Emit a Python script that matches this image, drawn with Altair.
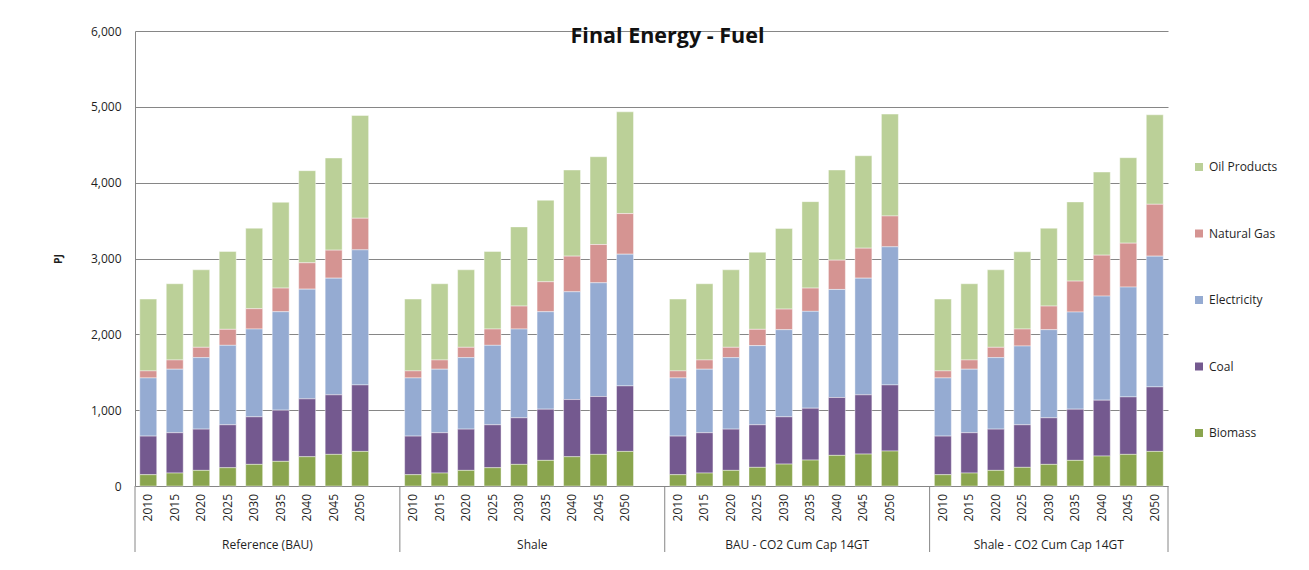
import altair as alt
import pandas as pd

years = [2010, 2015, 2020, 2025, 2030, 2035, 2040, 2045, 2050]
scenarios = ["Reference (BAU)", "Shale", "BAU - CO2 Cum Cap 14GT", "Shale - CO2 Cum Cap 14GT"]
fuels = ["Oil Products", "Natural Gas", "Electricity", "Coal", "Biomass"]
colors = ["#BBD098", "#D59492", "#95ABD2", "#74598F", "#8AA54E"]

# Reference (BAU)
ref_biomass = [149, 171, 206, 241, 285, 325, 386, 417, 456]
ref_coal = [509, 531, 544, 566, 627, 675, 763, 785, 877]
ref_elec = [767, 838, 943, 1048, 1158, 1298, 1447, 1539, 1781]
ref_gas = [93, 122, 136, 211, 268, 312, 347, 369, 417]
ref_oil = [947, 1005, 1022, 1026, 1061, 1131, 1215, 1215, 1355]

# Shale
shale_biomass = [149, 171, 206, 241, 285, 338, 386, 417, 456]
shale_coal = [509, 531, 544, 566, 614, 675, 754, 763, 864]
shale_elec = [767, 838, 943, 1048, 1171, 1285, 1421, 1500, 1737]
shale_gas = [93, 122, 136, 215, 303, 395, 470, 504, 535]
shale_oil = [947, 1005, 1022, 1022, 1044, 1075, 1136, 1158, 1342]

# BAU - CO2 Cum Cap 14GT
bauco2_biomass = [149, 171, 206, 246, 289, 342, 404, 421, 461]
bauco2_coal = [509, 531, 544, 561, 623, 684, 763, 781, 872]
bauco2_elec = [767, 838, 943, 1044, 1149, 1277, 1425, 1539, 1821]
bauco2_gas = [93, 122, 136, 215, 272, 307, 386, 395, 407]
bauco2_oil = [947, 1005, 1022, 1017, 1062, 1140, 1189, 1219, 1343]

# Shale - CO2 Cum Cap 14GT
shaleco2_biomass = [149, 171, 206, 246, 285, 338, 395, 417, 456]
shaleco2_coal = [509, 531, 544, 561, 614, 675, 737, 758, 851]
shaleco2_elec = [767, 838, 943, 1039, 1162, 1281, 1372, 1448, 1724]
shaleco2_gas = [93, 122, 136, 224, 312, 408, 540, 579, 684]
shaleco2_oil = [947, 1005, 1022, 1018, 1026, 1044, 1096, 1127, 1180]

y_ticks = [0, 1000, 2000, 3000, 4000, 5000, 6000]

series = [
    [ref_oil, ref_gas, ref_elec, ref_coal, ref_biomass],
    [shale_oil, shale_gas, shale_elec, shale_coal, shale_biomass],
    [bauco2_oil, bauco2_gas, bauco2_elec, bauco2_coal, bauco2_biomass],
    [shaleco2_oil, shaleco2_gas, shaleco2_elec, shaleco2_coal, shaleco2_biomass],
]

rows = []
for gi, sc in enumerate(scenarios):
    for fi, fuel in enumerate(fuels):
        for yr, v in zip(years, series[gi][fi]):
            rows.append({"slot": f"{gi}-{yr}", "scenario": sc, "fuel": fuel,
                         "value": v, "stack": len(fuels) - fi})
df = pd.DataFrame(rows)

domain = []
for gi in range(len(scenarios)):
    domain += [f"{gi}-{yr}" for yr in years]
    if gi < len(scenarios) - 1:
        domain.append(f"{gi}-gap")

year_df = pd.DataFrame([{"slot": f"{gi}-{yr}", "year": str(yr)}
                        for gi in range(len(scenarios)) for yr in years])

FONT = "Open Sans"
TXT = "#1f1f1f"
GRAY = "#868686"
W, H = 1033, 455
FS = 12

xscale = alt.Scale(domain=domain, paddingInner=0, paddingOuter=0)

bars = alt.Chart(df).mark_bar(width={"band": 0.64}, stroke="white", strokeWidth=0.6, strokeOpacity=0.7).encode(
    x=alt.X("slot:N", scale=xscale, sort=domain,
            axis=alt.Axis(title=None, labels=False, ticks=False, domainColor=GRAY)),
    y=alt.Y("value:Q", stack="zero", scale=alt.Scale(domain=[0, 6000], nice=False),
            axis=alt.Axis(values=y_ticks, format=",.0f",
                          title="PJ", titleFontWeight="bold", titleFontSize=10.5, titleFont=FONT,
                          titleColor=TXT, titleX=-72, titleY=H / 2, ticks=False, labelPadding=14,
                          labelFontSize=FS, labelFont=FONT, labelColor=TXT,
                          domainColor=GRAY, gridColor=GRAY)),
    color=alt.Color("fuel:N", scale=alt.Scale(domain=fuels, range=colors),
                    legend=alt.Legend(title=None, orient="none", legendX=1058, legendY=130,
                                      symbolType="square", symbolSize=64, symbolStrokeWidth=0,
                                      labelFontSize=FS, labelFont=FONT, labelColor=TXT,
                                      rowPadding=54.5, labelOffset=4)),
    order=alt.Order("stack:Q", sort="ascending"),
)

year_text = alt.Chart(year_df).mark_text(font=FONT, fontSize=FS, color=TXT, angle=270,
                                         align="right", baseline="middle").encode(
    x=alt.X("slot:N", scale=xscale, axis=None),
    y=alt.value(H + 8), text="year:N")

sep_left = pd.DataFrame({"slot": [f"{gi}-{years[0]}" for gi in range(len(scenarios))]})
sep_right = pd.DataFrame({"slot": [f"{len(scenarios) - 1}-{years[-1]}"]})

rule_left = alt.Chart(sep_left).mark_rule(color=GRAY, strokeWidth=1).encode(
    x=alt.X("slot:N", scale=xscale, bandPosition=0, axis=None),
    y=alt.value(H), y2=alt.value(H + 66))
rule_right = alt.Chart(sep_right).mark_rule(color=GRAY, strokeWidth=1).encode(
    x=alt.X("slot:N", scale=xscale, bandPosition=1, axis=None),
    y=alt.value(H), y2=alt.value(H + 66))

lab_a = pd.DataFrame({"slot": [f"{gi}-2035" for gi in range(3)], "label": scenarios[:3]})
lab_b = pd.DataFrame({"slot": ["3-2030"], "label": scenarios[3:]})

text_a = alt.Chart(lab_a).mark_text(font=FONT, fontSize=FS, color=TXT, baseline="middle").encode(
    x=alt.X("slot:N", scale=xscale, bandPosition=0, axis=None),
    y=alt.value(H + 59), text="label:N")
text_b = alt.Chart(lab_b).mark_text(font=FONT, fontSize=FS, color=TXT, baseline="middle").encode(
    x=alt.X("slot:N", scale=xscale, bandPosition=0.5, axis=None),
    y=alt.value(H + 59), text="label:N")

chart = alt.layer(bars, year_text, rule_left, rule_right, text_a, text_b).properties(
    width=W, height=H,
    title=alt.TitleParams("Final Energy - Fuel", fontSize=21.5, fontWeight="bold", font=FONT,
                          anchor="middle", dx=16, baseline="top", offset=-22, color="#111"),
    autosize=alt.AutoSizeParams(type="none"),
    padding={"left": 127, "top": 23, "right": 130, "bottom": 70},
).configure_view(stroke=None).configure_axis(gridWidth=1, domainWidth=1)

chart.save("out.html", embed_options={"renderer": "svg", "actions": False})
